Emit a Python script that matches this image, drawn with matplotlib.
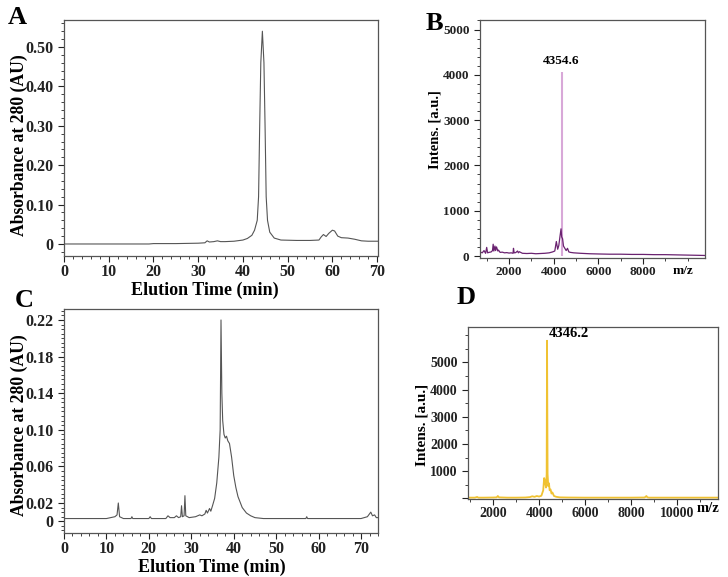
import matplotlib
matplotlib.use('Agg')
import matplotlib.pyplot as plt
from matplotlib.ticker import MultipleLocator

plt.rcParams['font.family'] = ['Liberation Serif', 'DejaVu Serif']
plt.rcParams['font.weight'] = 'bold'

W, H = 728, 577

# A: elution profile
a_time = [0, 10, 19, 20, 25, 30, 31.5, 32, 32.5, 33.5, 34.3, 35, 36, 38, 40, 41, 42,
          42.6, 43.2, 43.5, 43.75, 44.0, 44.35, 44.7, 44.95, 45.2, 45.5, 46, 47, 48.5,
          52, 55, 57, 57.5, 58, 58.6, 59.2, 60, 60.5, 61.2, 62, 63.5, 65, 66.5, 68, 70.5]
a_abs = [0.0, 0.0, 0.0, 0.001, 0.001, 0.002, 0.003, 0.008, 0.005, 0.006, 0.008, 0.006,
         0.006, 0.007, 0.01, 0.014, 0.022, 0.035, 0.06, 0.12, 0.3, 0.46, 0.54, 0.46, 0.3,
         0.12, 0.06, 0.03, 0.015, 0.01, 0.009, 0.009, 0.01, 0.018, 0.024, 0.019, 0.027,
         0.035, 0.033, 0.02, 0.016, 0.015, 0.012, 0.008, 0.007, 0.007]

# C: elution profile
c_time = [0, 10, 11, 12, 12.5, 12.8, 13.1, 14, 15.8, 16, 16.2, 20, 20.3, 20.6, 24, 24.5,
          25, 26, 26.5, 27, 27.5, 27.7, 27.9, 28.3, 28.5, 28.7, 29.5, 31, 32, 32.5, 33.2,
          33.5, 33.8, 34.3, 34.6, 35, 35.5, 36, 36.5, 36.8, 37.0, 37.2, 37.4, 37.7, 38.0,
          38.3, 38.6, 39.0, 39.5, 40.0, 40.5, 41.0, 42, 43, 44, 45, 47, 57, 57.2, 57.4,
          70, 71.5, 72.3, 72.7, 73.2, 73.6, 74]
c_abs = [0.003, 0.003, 0.004, 0.005, 0.007, 0.02, 0.005, 0.003, 0.003, 0.005, 0.003,
         0.003, 0.005, 0.003, 0.003, 0.006, 0.004, 0.004, 0.006, 0.004, 0.005, 0.017,
         0.005, 0.006, 0.028, 0.006, 0.004, 0.005, 0.007, 0.006, 0.008, 0.012, 0.009,
         0.014, 0.011, 0.017, 0.025, 0.042, 0.07, 0.1, 0.22, 0.14, 0.11, 0.095, 0.091,
         0.093, 0.088, 0.085, 0.07, 0.05, 0.037, 0.027, 0.015, 0.009, 0.006, 0.004,
         0.003, 0.003, 0.005, 0.003, 0.003, 0.005, 0.01, 0.006, 0.007, 0.004, 0.004]

# B: mass spectrum
b_mz = [700, 800, 880, 950, 1000, 1040, 1100, 1200, 1260, 1290, 1320, 1370, 1400, 1440,
        1500, 1530, 1600, 1700, 1800, 1900, 2000, 2100, 2180, 2200, 2230, 2300, 2380,
        2420, 2460, 2600, 2800, 3000, 3200, 3400, 3600, 3800, 3950, 4050, 4120, 4180,
        4230, 4280, 4330, 4360, 4400, 4440, 4500, 4560, 4620, 4680, 4750, 4900, 5200,
        5600, 6000, 6500, 7000, 7500, 8000, 8500, 9000, 9500, 10000, 10500, 10780]
b_int = [90, 70, 120, 60, 190, 70, 80, 90, 120, 260, 110, 220, 120, 200, 110, 130, 80,
         85, 70, 75, 65, 70, 60, 170, 70, 75, 110, 70, 95, 60, 55, 60, 50, 55, 60, 70, 90,
         110, 320, 150, 230, 420, 600, 420, 380, 220, 170, 120, 170, 90, 80, 70, 60, 50,
         45, 40, 40, 35, 35, 30, 30, 25, 20, 15, 12]
b_peak_mz = 4354.6
b_peak_int = 4060

# D: mass spectrum
d_mz = [900, 1200, 1300, 1350, 1600, 2000, 2150, 2200, 2250, 2600, 3000, 3400, 3600,
        3700, 3800, 3900, 4000, 4100, 4180, 4220, 4260, 4300, 4330, 4346.2, 4370, 4400,
        4430, 4460, 4500, 4540, 4580, 4650, 4750, 4900, 5200, 6000, 7000, 8000, 8600,
        8680, 8720, 8800, 9500, 10500, 11800]
d_int = [30, 30, 55, 30, 30, 35, 40, 90, 40, 30, 30, 35, 50, 80, 60, 90, 70, 100, 300,
         750, 620, 400, 900, 5800, 900, 450, 560, 300, 330, 180, 220, 90, 60, 40, 35, 30,
         30, 30, 35, 90, 40, 30, 30, 30, 30]
d_peak_mz = 4346.2


def px_axes(fig, left, top, right, bottom):
    return fig.add_axes([left / W, 1 - bottom / H, (right - left) / W, (bottom - top) / H])


def style(ax, size):
    for s in ax.spines.values():
        s.set_color('#555555')
        s.set_linewidth(0.9)
    ax.tick_params(which='both', direction='out', top=False, right=False,
                   labelsize=size, colors='#222222')
    ax.tick_params(which='major', length=4, width=0.8)
    ax.tick_params(which='minor', length=2.2, width=0.6)
    ax.tick_params(axis='x', which='major', pad=2)
    for lab in ax.get_xticklabels() + ax.get_yticklabels():
        lab.set_fontweight('bold')


fig = plt.figure(figsize=(W / 100, H / 100), dpi=100)

# ---- A
ax = px_axes(fig, 64, 20, 378, 256)
ax.plot(a_time, a_abs, color='#555555', lw=0.8)
ax.set_xlim(0, 70.2)
ax.set_ylim(-0.0305, 0.5685)
ax.set_xticks(range(0, 71, 10))
ax.set_yticks([0, 0.1, 0.2, 0.3, 0.4, 0.5])
ax.set_yticklabels(['0', '0.10', '0.20', '0.30', '0.40', '0.50'])
ax.xaxis.set_minor_locator(MultipleLocator(2))
ax.yaxis.set_minor_locator(MultipleLocator(0.02))
style(ax, 11.5)

# ---- C
ax = px_axes(fig, 64, 309, 378, 533)
ax.plot(c_time, c_abs, color='#555555', lw=0.8)
ax.set_xlim(0, 74)
ax.set_ylim(-0.0128, 0.232)
ax.set_xticks(range(0, 71, 10))
ax.set_yticks([0, 0.02, 0.06, 0.10, 0.14, 0.18, 0.22])
ax.set_yticklabels(['0', '0.02', '0.06', '0.10', '0.14', '0.18', '0.22'])
ax.xaxis.set_minor_locator(MultipleLocator(2))
ax.yaxis.set_minor_locator(MultipleLocator(0.005))
style(ax, 11.5)

# ---- B
ax = px_axes(fig, 480, 20, 705, 258)
ax.vlines([b_peak_mz], 0, [b_peak_int], color='#d8a8d8', lw=1.5)
ax.plot(b_mz, b_int, color='#6a2270', lw=0.9)
ax.set_xlim(700, 10780)
ax.set_ylim(-44, 5210)
ax.set_xticks([2000, 4000, 6000, 8000])
ax.set_yticks([0, 1000, 2000, 3000, 4000, 5000])
ax.xaxis.set_minor_locator(MultipleLocator(1000))
ax.yaxis.set_minor_locator(MultipleLocator(200))
style(ax, 9.5)
ax.text(b_peak_mz, b_peak_int + 110, '4354.6', ha='center', va='bottom',
        fontsize=9.5, fontweight='bold')

# ---- D
ax = px_axes(fig, 468, 327, 718, 499)
ax.plot(d_mz, d_int, color='#f0c232', lw=1.3)
ax.set_xlim(900, 11800)
ax.set_ylim(-20, 6305)
ax.set_xticks([2000, 4000, 6000, 8000, 10000])
ax.set_yticks([0, 1000, 2000, 3000, 4000, 5000])
ax.set_yticklabels(['', '1000', '2000', '3000', '4000', '5000'])
ax.xaxis.set_minor_locator(MultipleLocator(1000))
ax.yaxis.set_minor_locator(MultipleLocator(500))
style(ax, 10)
ax.text(d_peak_mz + 80, 6050, '4346.2', ha='left', va='center',
        fontsize=10.5, fontweight='bold')

# axis titles and panel letters
fig.text(19 / W, 1 - 145 / H, 'Absorbance at 280 (AU)', rotation=90, ha='center',
         va='center', fontsize=12.7, fontweight='bold')
fig.text(19 / W, 1 - 425 / H, 'Absorbance at 280 (AU)', rotation=90, ha='center',
         va='center', fontsize=12.7, fontweight='bold')
fig.text(205 / W, 1 - 290 / H, 'Elution Time (min)', ha='center', va='center',
         fontsize=13, fontweight='bold')
fig.text(212 / W, 1 - 567 / H, 'Elution Time (min)', ha='center', va='center',
         fontsize=13, fontweight='bold')
fig.text(435 / W, 1 - 130 / H, 'Intens. [a.u.]', rotation=90, ha='center',
         va='center', fontsize=10.5, fontweight='bold')
fig.text(422 / W, 1 - 425 / H, 'Intens. [a.u.]', rotation=90, ha='center',
         va='center', fontsize=11, fontweight='bold')
fig.text(683 / W, 1 - 271 / H, 'm/z', ha='center', va='center', fontsize=9.5,
         fontweight='bold')
fig.text(708 / W, 1 - 509 / H, 'm/z', ha='center', va='center', fontsize=10.5,
         fontweight='bold')

for letter, x, y in [('A', 17, 17), ('B', 434, 23), ('C', 24, 300), ('D', 466, 297)]:
    fig.text(x / W, 1 - y / H, letter, ha='center', va='center', fontsize=19,
             fontweight='bold')

fig.savefig('out.png', dpi=100)
